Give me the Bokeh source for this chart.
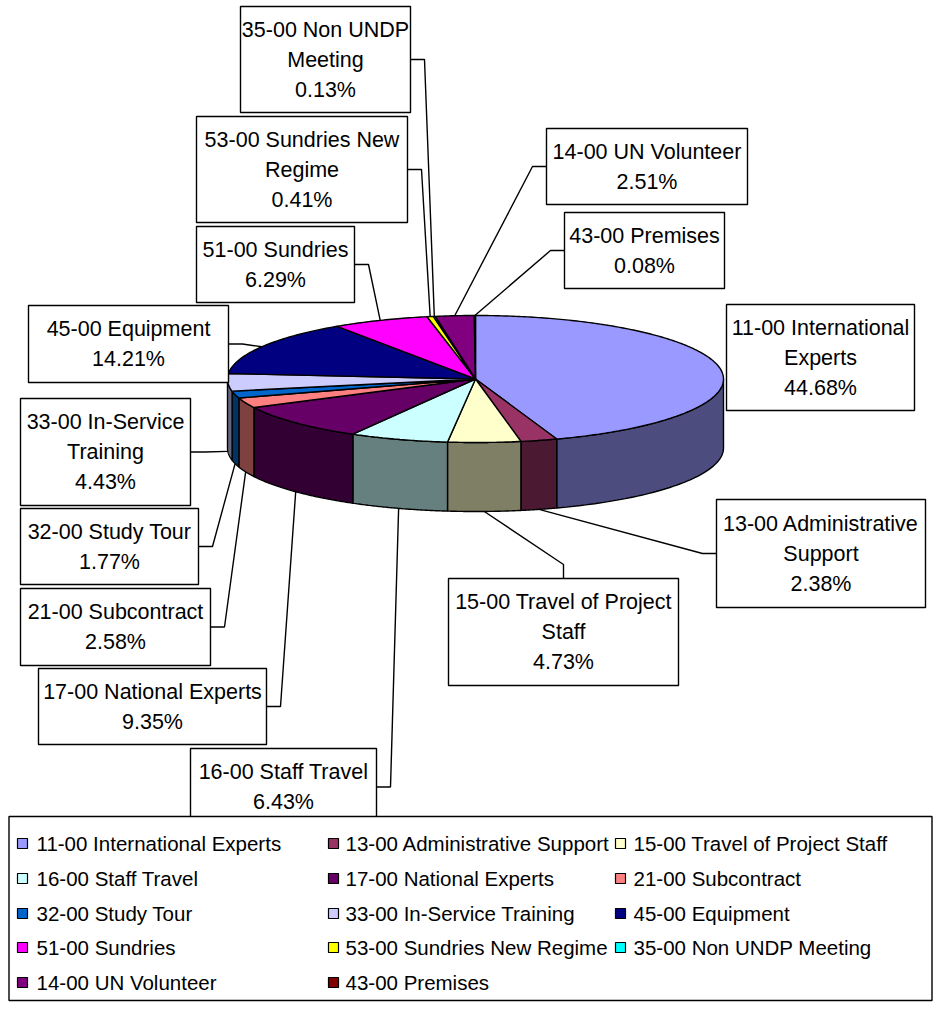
import numpy as np
from bokeh.plotting import figure
from bokeh.models import Range1d
from bokeh.embed import file_html
from bokeh.resources import INLINE
from bokeh.core.properties import value

# ---------------- data ----------------
codes = ["11-00", "13-00", "15-00", "16-00", "17-00", "21-00", "32-00",
         "33-00", "45-00", "51-00", "53-00", "35-00", "14-00", "43-00"]
names = ["International Experts", "Administrative Support", "Travel of Project Staff",
         "Staff Travel", "National Experts", "Subcontract", "Study Tour",
         "In-Service Training", "Equipment", "Sundries", "Sundries New Regime",
         "Non UNDP Meeting", "UN Volunteer", "Premises"]
shares = [44.68, 2.38, 4.73, 6.43, 9.35, 2.58, 1.77, 4.43, 14.21, 6.29, 0.41, 0.13, 2.51, 0.08]
colors = ["#9999FF", "#993366", "#FFFFCC", "#CCFFFF", "#660066", "#FF8080", "#0066CC",
          "#CCCCFF", "#000080", "#FF00FF", "#FFFF00", "#00FFFF", "#800080", "#800000"]
# where each data label's name wraps onto a new line
label_lines = [["11-00 International", "Experts"], ["13-00 Administrative", "Support"],
               ["15-00 Travel of Project", "Staff"], ["16-00 Staff Travel"],
               ["17-00 National Experts"], ["21-00 Subcontract"], ["32-00 Study Tour"],
               ["33-00 In-Service", "Training"], ["45-00 Equipment"], ["51-00 Sundries"],
               ["53-00 Sundries New", "Regime"], ["35-00 Non UNDP", "Meeting"],
               ["14-00 UN Volunteer"], ["43-00 Premises"]]

# ---------------- layout (px) ----------------
W, H = 933, 1002
CX, CY, RX, RY, DEPTH = 475.0, 378.5, 248.0, 63.5, 69.0
FONT = "Liberation Sans"
FS_LABEL = "21.5px"
FS_LEG = "20.5px"
LINE_H = 30
# label boxes: left, right, top, bottom, leader side
boxes = [
    (726, 914, 304, 410, None),
    (716, 925, 499, 607, "left"),
    (448, 678, 578, 685, "top"),
    (190, 376, 748, 825, "right"),
    (38, 266, 668, 744, "right"),
    (20, 210, 588, 665, "right"),
    (20, 198, 508, 584, "right"),
    (20, 190, 398, 505, "right"),
    (28, 228, 305, 382, "right"),
    (196, 354, 226, 302, "right"),
    (196, 407, 116, 222, "right"),
    (240, 410, 6, 112, "right"),
    (546, 747, 128, 204, "left"),
    (564, 724, 212, 288, "left"),
]
ELBOW = 14
LEG = (8.5, 931.5, 816, 1000)
leg_cols_marker = [22, 333, 620]
leg_cols_text = [36, 345, 633]
leg_rows = [843, 878, 913, 947, 982]


def darker(hexcol, f=0.5):
    h = hexcol.lstrip("#")
    r, g, b = (int(h[i:i + 2], 16) for i in (0, 2, 4))
    return "#%02X%02X%02X" % (int(r * f), int(g * f), int(b * f))


p = figure(width=W, height=H, x_range=Range1d(0, W), y_range=Range1d(H, 0),
           output_backend="svg", toolbar_location=None,
           x_axis_location=None, y_axis_location=None, min_border=0)
p.grid.visible = False
p.outline_line_color = None
p.background_fill_color = "white"

total = sum(shares)
fr = np.cumsum([0.0] + list(shares)) / total


def ex(t):
    return CX + RX * np.cos(np.radians(t))


def ey(t):
    return CY - RY * np.sin(np.radians(t))


# sides
for i, c in enumerate(colors):
    a0 = 90 - 360 * fr[i]
    a1 = 90 - 360 * fr[i + 1]
    lo, hi = max(a1, -180), min(a0, 0)
    if lo < hi:
        t = np.linspace(hi, lo, 60)
        xs = list(ex(t)) + list(ex(t[::-1]))
        ys = list(ey(t)) + list(ey(t[::-1]) + DEPTH)
        p.patch(xs, ys, fill_color=darker(c), line_color="black", line_width=1.4)

# tops
for i, c in enumerate(colors):
    a0 = 90 - 360 * fr[i]
    a1 = 90 - 360 * fr[i + 1]
    n = max(3, int(abs(a0 - a1) * 1.5))
    t = np.linspace(a0, a1, n)
    xs = [CX] + list(ex(t))
    ys = [CY] + list(ey(t))
    p.patch(xs, ys, fill_color=c, line_color="black", line_width=1.4)

# leaders
for i, (l, r, tp, bt, side) in enumerate(boxes):
    if side is None:
        continue
    mid = 90 - 360 * (fr[i] + fr[i + 1]) / 2
    ax = ex(mid)
    ay = ey(mid) + (DEPTH if np.sin(np.radians(mid)) < 0 else 0)
    my = (tp + bt) / 2
    if side == "right":
        pts = [(r, my), (r + ELBOW, my), (ax, ay)]
    elif side == "left":
        pts = [(l, my), (l - ELBOW, my), (ax, ay)]
    else:
        mx = (l + r) / 2
        pts = [(mx, tp), (mx, tp - ELBOW), (ax, ay)]
    p.line([q[0] for q in pts], [q[1] for q in pts], line_color="black", line_width=1.4)

# label boxes
for i, (l, r, tp, bt, side) in enumerate(boxes):
    p.quad(left=l, right=r, top=tp, bottom=bt, fill_color="white",
           line_color="black", line_width=1.4)
    lines = label_lines[i] + ["%.2f%%" % shares[i]]
    n = len(lines)
    my = (tp + bt) / 2
    ys = [my + LINE_H * (k - (n - 1) / 2) for k in range(n)]
    p.text(x=[(l + r) / 2] * n, y=ys, text=lines, text_align="center",
           text_baseline="middle", text_font=value(FONT), text_font_size=FS_LABEL,
           text_color="black")

# legend
p.quad(left=LEG[0], right=LEG[1], top=LEG[2], bottom=LEG[3], fill_color="white",
       line_color="black", line_width=1.4)
for i in range(len(codes)):
    row, col = divmod(i, 3)
    p.rect(x=leg_cols_marker[col], y=leg_rows[row], width=10, height=10,
           fill_color=colors[i], line_color="black", line_width=1.2)
    p.text(x=[leg_cols_text[col]], y=[leg_rows[row]], text=[codes[i] + " " + names[i]],
           text_align="left", text_baseline="middle", text_font=value(FONT),
           text_font_size=FS_LEG, text_color="black")

open("out.html", "w").write(file_html(p, INLINE))
